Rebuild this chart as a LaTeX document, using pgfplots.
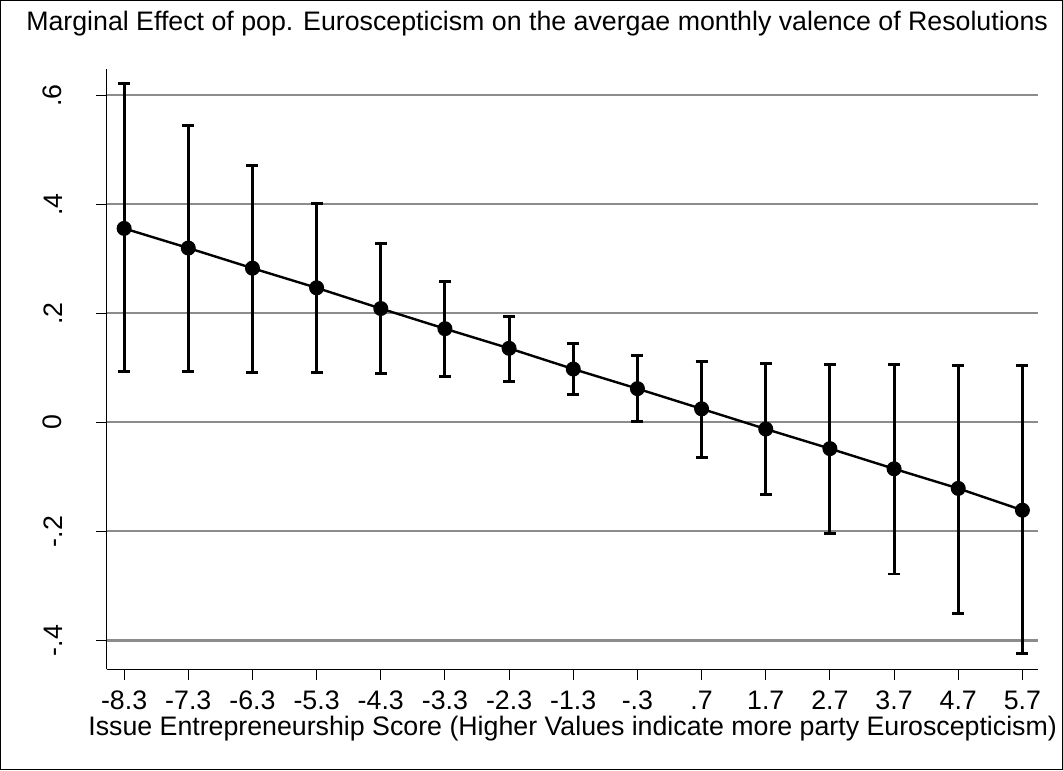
\documentclass[border=0pt]{standalone}
\usepackage{pgfplots}
\usepackage{pgfplotstable}
\pgfplotsset{compat=1.18}
\usepackage{fontspec}
\setmainfont{Liberation Sans}
\definecolor{gridgray}{RGB}{140,140,140}

\pgfplotstableread{
x y lo hi
-8.3 0.356 0.093 0.621
-7.3 0.320 0.093 0.545
-6.3 0.283 0.092 0.472
-5.3 0.247 0.091 0.401
-4.3 0.209 0.089 0.329
-3.3 0.172 0.085 0.259
-2.3 0.136 0.076 0.195
-1.3 0.098 0.052 0.145
-0.3 0.062 0.001 0.122
0.7 0.025 -0.064 0.112
1.7 -0.012 -0.133 0.109
2.7 -0.048 -0.204 0.107
3.7 -0.085 -0.278 0.106
4.7 -0.121 -0.351 0.105
5.7 -0.161 -0.423 0.104
}\datatable

\begin{document}
\begin{tikzpicture}[font=\fontsize{20}{24}\selectfont]
\begin{axis}[
  at={(0,0)}, anchor=south west,
  width=696.75pt, height=449.25pt, scale only axis,
  xmin=-8.57, xmax=5.95, ymin=-0.453, ymax=0.649,
  axis x line*=bottom, axis y line*=left,
  axis line style={-, line width=0.75pt, black},
  tick align=outside, major tick length=8.25pt,
  tick style={black, line width=0.75pt},
  xtick={-8.3,-7.3,-6.3,-5.3,-4.3,-3.3,-2.3,-1.3,-0.3,0.7,1.7,2.7,3.7,4.7,5.7},
  xticklabels={-8.3,-7.3,-6.3,-5.3,-4.3,-3.3,-2.3,-1.3,-.3,.7,1.7,2.7,3.7,4.7,5.7},
  ytick={-0.4,-0.2,0,0.2,0.4,0.6},
  yticklabels={-.4,-.2,0,.2,.4,.6},
  xticklabel style={anchor=base, inner sep=0pt, yshift=-21.7pt},
  yticklabel style={xshift=-25pt, rotate=90, anchor=south, inner sep=0pt},
  ymajorgrids, major grid style={gridgray, line width=1.5pt},
  clip=false,
]
\addplot[black, line width=1.8pt, mark=*, mark size=4.7pt,
  error bars/.cd, y dir=both, y explicit,
  error bar style={line width=2.2pt, black},
  error mark options={line width=2.2pt, mark size=4.5pt, rotate=90}]
  table[x=x, y=y, y error plus expr=\thisrow{hi}-\thisrow{y}, y error minus expr=\thisrow{y}-\thisrow{lo}] {\datatable};
\end{axis}
\node[anchor=base west] at (-63.75pt,477.75pt) {Marginal Effect of pop. Euroscepticism on the avergae monthly valence of Resolutions};
\node[anchor=base] at (348.4pt,-49.5pt) {Issue Entrepreneurship Score (Higher Values indicate more party Euroscepticism)};
\draw[line width=0.75pt] (-79.5pt,-75pt) rectangle (714.75pt,500.25pt);
\end{tikzpicture}
\end{document}
